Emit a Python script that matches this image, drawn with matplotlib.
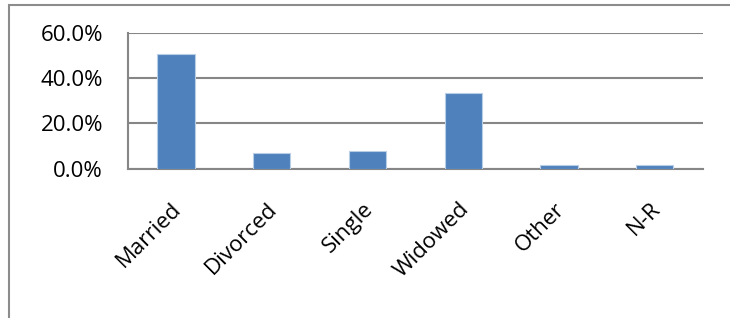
import matplotlib.pyplot as plt
from matplotlib.patches import Rectangle
from matplotlib.ticker import FuncFormatter
from matplotlib.transforms import ScaledTranslation

categories = ['Married', 'Divorced', 'Single', 'Widowed', 'Other', 'N-R']
shares = [50.8, 6.8, 7.7, 33.3, 1.5, 1.5]
y_ticks = [0, 20, 40, 60]

plt.rcParams['font.family'] = ['Open Sans', 'DejaVu Sans']

W, H = 730, 318
fig = plt.figure(figsize=(W / 100, H / 100), dpi=100)

# outer chart border (only left and top visible, rest runs off the picture)
fig.patches.append(Rectangle((8.5 / W, -0.1), 1.2, 1 - 4.5 / H + 0.1,
                             transform=fig.transFigure, fill=False,
                             edgecolor='#8c8c8c', linewidth=1.5))

ax = fig.add_axes([128 / W, 1 - 168.7 / H, (702.7 - 128) / W, (168.7 - 33) / H])

x = range(len(categories))
ax.bar(x, shares, width=0.39, color='#4F81BD', edgecolor='#B9CDE5', linewidth=0.8, zorder=3)

ax.set_xlim(-0.5, len(categories) - 0.5)
ax.set_ylim(0, 60)
ax.set_yticks(y_ticks)
ax.yaxis.set_major_formatter(FuncFormatter(lambda v, p: f'{v:.1f}%'))
ax.grid(axis='y', color='#868686', linewidth=1.5, zorder=0)

for side in ['top', 'right']:
    ax.spines[side].set_visible(False)
for side in ['left', 'bottom']:
    ax.spines[side].set_color('#868686')
    ax.spines[side].set_linewidth(1.5)

ax.tick_params(axis='y', length=0, pad=18, labelsize=16)
ax.tick_params(axis='x', length=0, pad=0, labelsize=16)
ax.set_xticks(list(x))
ax.set_xticklabels(categories, rotation=45, ha='right', va='top', rotation_mode='anchor')
shift = ScaledTranslation(-3.5 / 72, -21.6 / 72, fig.dpi_scale_trans)
for lbl in ax.get_xticklabels():
    lbl.set_transform(lbl.get_transform() + shift)

fig.savefig('out.png', dpi=100)
